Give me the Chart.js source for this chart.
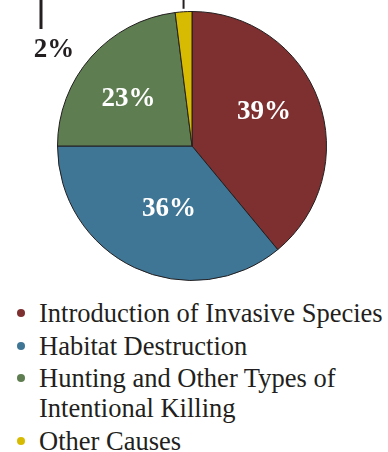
<!DOCTYPE html>
<html>
<head>
<meta charset="utf-8">
<script src="https://cdn.jsdelivr.net/npm/chart.js@4"></script>
<style>
  html, body { margin: 0; padding: 0; background: #fff; }
  #wrap { position: relative; width: 388px; height: 452px; overflow: hidden; }
  #pie { position: absolute; left: 0; top: 0; width: 388px; height: 290px; }
  #legend {
    position: absolute; left: 0; top: 298px; width: 388px;
    margin: 0; padding: 0; list-style: none;
    font-family: "Liberation Serif", "DejaVu Serif", serif; font-size: 26.5px;
    color: #231f20; line-height: 30px;
  }
  #legend li { position: relative; padding-left: 39px; margin-bottom: 2.5px; width: 320px; }
  #legend li span.dot {
    position: absolute; left: 17px; top: 11px; width: 8px; height: 8px; border-radius: 50%;
  }
</style>
</head>
<body>
<div id="wrap">
  <div id="pie"><canvas id="graph"></canvas></div>
  <ul id="legend"></ul>
</div>
<script>
var causes = ['Introduction of Invasive Species', 'Habitat Destruction', 'Hunting and Other Types of Intentional Killing', 'Other Causes'];
var shares = [39, 36, 23, 2];
var colors = ['#7e2f2f', '#3f7595', '#5e7d50', '#d6bb02'];

var context = document.querySelector('#graph').getContext('2d');

// percent labels inside slices, and the leader line for the tiny one
var sliceLabels = {
  id: 'sliceLabels',
  afterDatasetsDraw: function(chart, args, opts) {
    var ctx = chart.ctx;
    var arcs = chart.getDatasetMeta(0).data;
    ctx.save();
    ctx.font = 'bold 27px "Liberation Serif", serif';
    ctx.textAlign = 'center';
    ctx.textBaseline = 'middle';
    arcs.forEach(function(arc, i) {
      var p = arc.getProps(['x', 'y', 'startAngle', 'endAngle', 'outerRadius'], true);
      var mid = (p.startAngle + p.endAngle) / 2;
      var text = shares[i] + '%';
      if (shares[i] < 5) {
        var lx = p.x + Math.cos(mid) * p.outerRadius;
        var ly = p.y + Math.sin(mid) * p.outerRadius;
        ctx.strokeStyle = '#231f20';
        ctx.lineWidth = 2;
        ctx.beginPath();
        ctx.moveTo(lx, ly - 3);
        ctx.lineTo(lx, -20);
        ctx.stroke();
        ctx.lineWidth = 3;
        ctx.beginPath();
        ctx.moveTo(41, -20);
        ctx.lineTo(41, 29);
        ctx.stroke();
        ctx.fillStyle = '#231f20';
        ctx.fillText(text, 54, 50);
      } else {
        var a = mid - opts.turn;
        var r = p.outerRadius * opts.radius[i];
        ctx.fillStyle = '#ffffff';
        ctx.fillText(text, p.x + Math.cos(a) * r, p.y + Math.sin(a) * r);
      }
    });
    ctx.restore();
  }
};

var chart = new Chart(context, {
  type: 'pie',
  data: {
    labels: causes,
    datasets: [{
      data: shares,
      backgroundColor: colors,
      borderColor: '#231f20',
      borderWidth: 1
    }]
  },
  options: {
    responsive: true,
    maintainAspectRatio: false,
    animation: false,
    layout: {
      padding: { left: 57, right: 61, top: 11, bottom: 9 }
    },
    plugins: {
      legend: { display: false },
      tooltip: { enabled: false },
      sliceLabels: { turn: 0.09, radius: [0.59, 0.5, 0.585, 1] }
    }
  },
  plugins: [sliceLabels]
});

// legend below the pie
var legend = document.getElementById('legend');
causes.forEach(function(name, i) {
  var li = document.createElement('li');
  var dot = document.createElement('span');
  dot.className = 'dot';
  dot.style.background = colors[i];
  li.appendChild(dot);
  li.appendChild(document.createTextNode(name));
  if (i == 0) li.style.whiteSpace = 'nowrap';
  legend.appendChild(li);
});
</script>
</body>
</html>
